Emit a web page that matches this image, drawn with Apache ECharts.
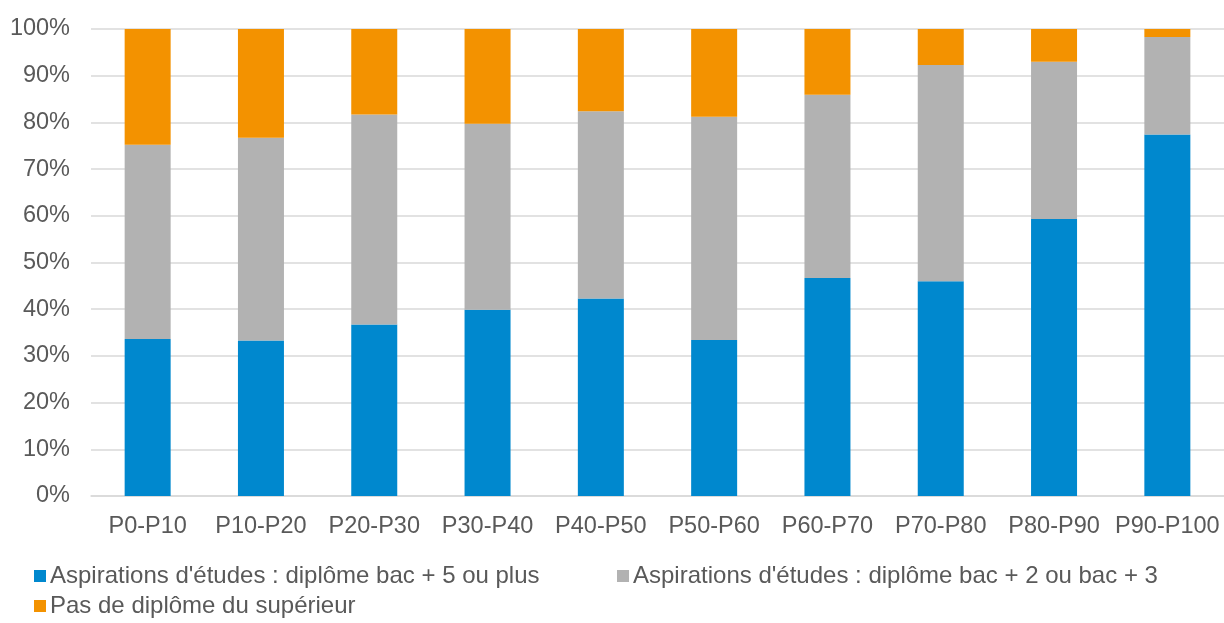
<!DOCTYPE html>
<html>
<head>
<meta charset="utf-8">
<script src="https://cdn.jsdelivr.net/npm/echarts@6/dist/echarts.min.js"></script>
<style>html,body{margin:0;padding:0;background:#fff;}#c{width:1224px;height:623px;}</style>
</head>
<body>
<div id="c"></div>
<script>
const categories = ['P0-P10','P10-P20','P20-P30','P30-P40','P40-P50','P50-P60','P60-P70','P70-P80','P80-P90','P90-P100'];
const bac5 = [33.6, 33.3, 36.7, 39.9, 42.3, 33.4, 46.7, 46.0, 59.3, 77.4];
const bac23 = [41.6, 43.4, 45.0, 39.8, 40.1, 47.8, 39.2, 46.3, 33.7, 20.9];
const pasSup = [24.8, 23.3, 18.3, 20.3, 17.6, 18.8, 14.1, 7.7, 7.0, 1.7];
const names = ["Aspirations d'études : diplôme bac + 5 ou plus", "Aspirations d'études : diplôme bac + 2 ou bac + 3", "Pas de diplôme du supérieur"];
const colors = ['#0088CE', '#B2B2B2', '#F39200'];

const font = 'Liberation Sans, Arial, sans-serif';
const textColor = '#595959';
const chart = echarts.init(document.getElementById('c'), null, {renderer: 'canvas'});
const legendBase = {
  icon: 'rect', itemWidth: 12, itemHeight: 12, itemGap: 6,
  textStyle: {fontFamily: font, fontSize: 24, color: textColor, padding: [0,0,0,-1]},
  selectedMode: false, padding: 0
};
chart.setOption({
  animation: false,
  color: colors,
  grid: {left: 91, right: -4, top: 29, bottom: 127, containLabel: false},
  legend: [
    Object.assign({}, legendBase, {data: [names[0]], left: 34, top: 564}),
    Object.assign({}, legendBase, {data: [names[1]], left: 617, top: 564}),
    Object.assign({}, legendBase, {data: [names[2]], left: 34, top: 594})
  ],
  xAxis: {
    type: 'category', data: categories,
    axisLine: {lineStyle: {color: '#D9D9D9', width: 1.5}},
    axisTick: {show: false},
    axisLabel: {fontFamily: font, fontSize: 23.5, color: textColor, margin: 19, interval: 0, hideOverlap: false}
  },
  yAxis: {
    type: 'value', min: 0, max: 100, interval: 10,
    axisLine: {show: false}, axisTick: {show: false},
    splitLine: {lineStyle: {color: '#D9D9D9', width: 1.5}},
    axisLabel: {fontFamily: font, fontSize: 23.5, color: textColor, margin: 21, formatter: v => v + '%'}
  },
  series: [
    {name: names[0], type: 'bar', stack: 's', data: bac5, barWidth: 46, itemStyle: {color: colors[0]}},
    {name: names[1], type: 'bar', stack: 's', data: bac23, barWidth: 46, itemStyle: {color: colors[1]}},
    {name: names[2], type: 'bar', stack: 's', data: pasSup, barWidth: 46, itemStyle: {color: colors[2]}}
  ]
});
</script>
</body>
</html>
